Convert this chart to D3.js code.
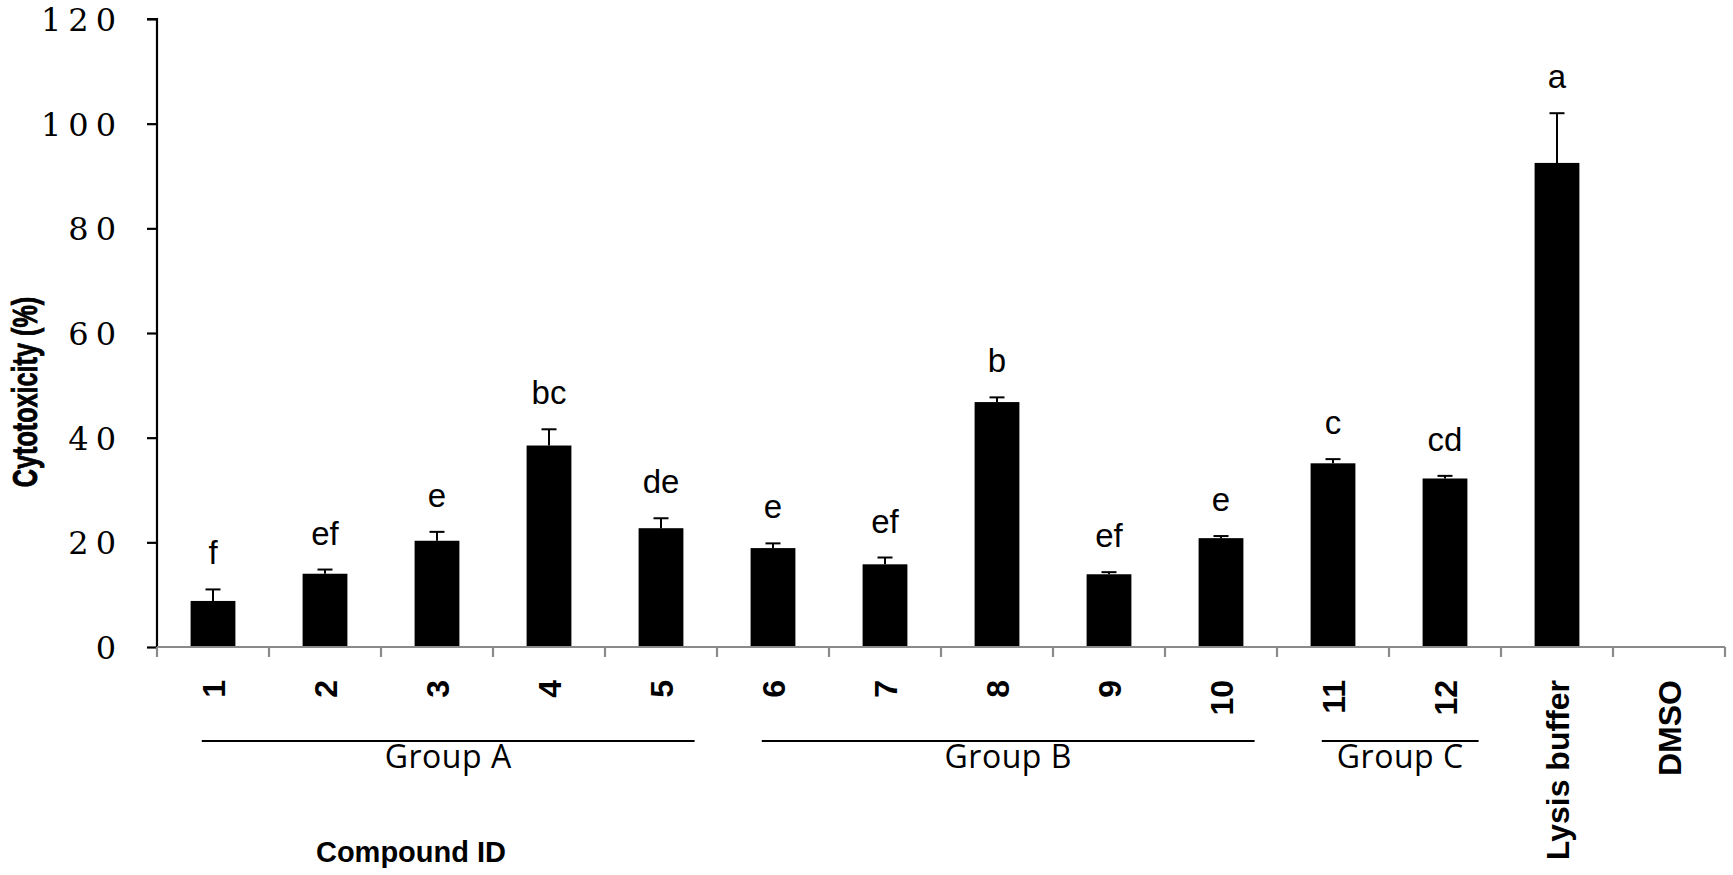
<!DOCTYPE html>
<html>
<head>
<meta charset="utf-8">
<script src="https://cdn.jsdelivr.net/npm/d3@7"></script>
<style>
  html, body { margin: 0; padding: 0; background: #ffffff; }
  svg { display: block; }
</style>
</head>
<body>
<svg id="chart" width="1733" height="875"></svg>
<script>
// ---- data ----
const categories = ["1", "2", "3", "4", "5", "6", "7", "8", "9", "10", "11", "12", "Lysis buffer", "DMSO"];
const values = [8.8, 14.0, 20.3, 38.5, 22.7, 18.9, 15.8, 46.8, 13.9, 20.8, 35.1, 32.2, 92.5, null];
const errors = [2.2, 0.8, 1.7, 3.1, 1.9, 0.9, 1.3, 0.9, 0.4, 0.4, 0.8, 0.5, 9.5, null];
const letters = ["f", "ef", "e", "bc", "de", "e", "ef", "b", "ef", "e", "c", "cd", "a", ""];
const yTicks = [0, 20, 40, 60, 80, 100, 120];
const groupNames = ["Group A", "Group B", "Group C"];
const groupFirst = ["1", "6", "11"];
const groupLast = ["5", "10", "12"];
const yTitle = "Cytotoxicity (%)";
const xTitle = "Compound ID";

(function () {
// ---- layout ----
const svg = d3.select("#chart");
const mLeft = 157, mRight = 1725, mTop = 19, mBottom = 647;

const x = d3.scaleBand()
  .domain(categories)
  .range([mLeft, mRight])
  .paddingInner(0.6)
  .paddingOuter(0.3);
const step = x.step();
const bw = x.bandwidth();
const cx = d => x(d) + bw / 2;

const y = d3.scaleLinear().domain([0, 120]).range([mBottom, mTop]);

const rows = categories.map((c, i) => ({ c, v: values[i], e: errors[i], l: letters[i] }));

// ---- bars ----
svg.append("g").selectAll("rect")
  .data(rows.filter(r => r.v != null))
  .join("rect")
  .attr("x", r => x(r.c))
  .attr("width", bw)
  .attr("y", r => y(r.v))
  .attr("height", r => y(0) - y(r.v))
  .attr("fill", "#000");

// ---- error bars (upper) ----
const eg = svg.append("g").attr("stroke", "#000").attr("stroke-width", 2);
rows.filter(r => r.v != null).forEach(r => {
  eg.append("line")
    .attr("x1", cx(r.c)).attr("x2", cx(r.c))
    .attr("y1", y(r.v)).attr("y2", y(r.v + r.e));
  eg.append("line")
    .attr("x1", cx(r.c) - 7.5).attr("x2", cx(r.c) + 7.5)
    .attr("y1", y(r.v + r.e)).attr("y2", y(r.v + r.e));
});

// ---- significance letters ----
svg.append("g").selectAll("text")
  .data(rows.filter(r => r.v != null && r.l))
  .join("text")
  .attr("x", r => cx(r.c))
  .attr("y", r => y(r.v + r.e) - 25)
  .attr("text-anchor", "middle")
  .attr("font-family", "'Liberation Sans', Arial, sans-serif")
  .attr("font-size", 33)
  .attr("fill", "#000")
  .text(r => r.l);

// ---- y axis ----
const yAxis = d3.axisLeft(y).tickValues(yTicks).tickSize(10).tickPadding(24).tickFormat(d3.format("d"));
const yg = svg.append("g").attr("transform", `translate(${mLeft},0)`).call(yAxis);
yg.select(".domain").attr("stroke", "#000").attr("stroke-width", 2.2).attr("d", `M-10,${mTop}H0V${mBottom}`);
yg.selectAll(".tick line").attr("stroke", "#000").attr("stroke-width", 2.2);
yg.selectAll(".tick text")
  .attr("font-family", "'DejaVu Serif', 'Liberation Serif', serif")
  .attr("font-size", 32)
  .attr("letter-spacing", "7px")
  .attr("fill", "#000")
  .attr("dy", "0.36em");

// ---- x axis ----
const xg = svg.append("g");
xg.append("line")
  .attr("x1", mLeft).attr("x2", mRight)
  .attr("y1", mBottom).attr("y2", mBottom)
  .attr("stroke", "#8a8a8a").attr("stroke-width", 2.2);
const boundaries = categories.map(c => cx(c) - step / 2).concat([cx(categories[categories.length - 1]) + step / 2]);
xg.selectAll("line.tk")
  .data(boundaries)
  .join("line")
  .attr("class", "tk")
  .attr("x1", d => d).attr("x2", d => d)
  .attr("y1", mBottom).attr("y2", mBottom + 10)
  .attr("stroke", "#8a8a8a").attr("stroke-width", 2.2);

xg.selectAll("text.xl")
  .data(categories)
  .join("text")
  .attr("class", "xl")
  .attr("transform", c => `translate(${cx(c)},680) rotate(-90)`)
  .attr("text-anchor", "end")
  .attr("dy", "0.36em")
  .attr("font-family", "'Liberation Sans', Arial, sans-serif")
  .attr("font-weight", "bold")
  .attr("font-size", 32)
  .attr("fill", "#000")
  .text(c => c);

// ---- groups ----
const gg = svg.append("g");
groupNames.forEach((name, i) => {
  const x1 = cx(groupFirst[i]) - 0.1 * step;
  const x2 = cx(groupLast[i]) + 0.3 * step;
  gg.append("line")
    .attr("x1", x1).attr("x2", x2)
    .attr("y1", 741).attr("y2", 741)
    .attr("stroke", "#000").attr("stroke-width", 2);
  gg.append("text")
    .attr("x", (cx(groupFirst[i]) + cx(groupLast[i])) / 2 + 0.1 * step)
    .attr("y", 768)
    .attr("text-anchor", "middle")
    .attr("font-family", "'Open Sans', sans-serif")
    .attr("font-size", 32)
    .attr("letter-spacing", "0.5px")
    .attr("fill", "#000")
    .text(name);
});

// ---- axis titles ----
svg.append("text")
  .attr("transform", `translate(37,392) rotate(-90) scale(0.7,1)`)
  .attr("text-anchor", "middle")
  .attr("font-family", "'Liberation Sans', Arial, sans-serif")
  .attr("font-weight", "bold")
  .attr("font-size", 36)
  .attr("fill", "#000")
  .attr("stroke", "#000")
  .attr("stroke-width", 0.9)
  .text(yTitle);

svg.append("text")
  .attr("x", 411)
  .attr("y", 862)
  .attr("text-anchor", "middle")
  .attr("font-family", "'Liberation Sans', Arial, sans-serif")
  .attr("font-weight", "bold")
  .attr("font-size", 29)
  .attr("fill", "#000")
  .text(xTitle);
})();
</script>
</body>
</html>
